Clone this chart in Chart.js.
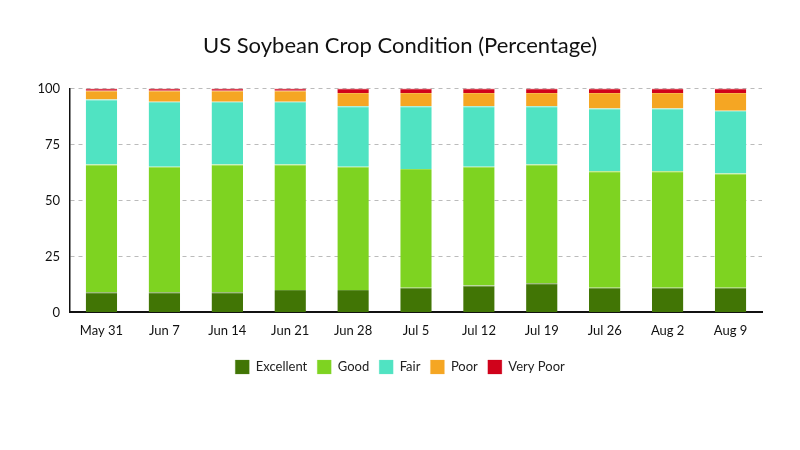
<!DOCTYPE html>
<html>
<head>
<meta charset="utf-8">
<script src="https://cdn.jsdelivr.net/npm/chart.js@4"></script>
<style>
html,body{margin:0;padding:0;background:#fff;}
#wrap{width:800px;height:450px;}
</style>
</head>
<body>
<div id="wrap"><canvas id="c" width="800" height="450"></canvas></div>
<script>
const categories = ["May 31","Jun 7","Jun 14","Jun 21","Jun 28","Jul 5","Jul 12","Jul 19","Jul 26","Aug 2","Aug 9"];
const excellent = [9, 9, 9, 10, 10, 11, 12, 13, 11, 11, 11];
const good      = [57, 56, 57, 56, 55, 53, 53, 53, 52, 52, 51];
const fair      = [29, 29, 28, 28, 27, 28, 27, 26, 28, 28, 28];
const poor      = [4, 5, 5, 5, 6, 6, 6, 6, 7, 7, 8];
const veryPoor  = [1, 1, 1, 1, 2, 2, 2, 2, 2, 2, 2];
const yTicks = [0, 25, 50, 75, 100];

const F = "Lato, 'Noto Sans', sans-serif";
Chart.defaults.font.family = F;
Chart.defaults.color = "#111";

function ds(label, data, color, border) {
  return {label, data, backgroundColor: color, borderColor: border, borderWidth: {top:1, left:0, right:0, bottom:0}, borderSkipped: false,
          barPercentage: 0.5, categoryPercentage: 1.0};
}

new Chart(document.getElementById("c"), {
  type: "bar",
  data: {
    labels: categories,
    datasets: [
      ds("Excellent", excellent, "#417505", "#5e8f2a"),
      ds("Good", good, "#7ed321", "#9ae04a"),
      ds("Fair", fair, "#50e3c2", "#70e8cc"),
      ds("Poor", poor, "#f5a623", "#f7b84a"),
      ds("Very Poor", veryPoor, "#d0021b", "#d0021b")
    ]
  },
  options: {
    responsive: false,
    animation: false,
    layout: {padding: {left: 38, right: 38, top: 12, bottom: 66}},
    plugins: {
      title: {display: true, text: "US Soybean Crop Condition (Percentage)", color: "#111",
              font: {size: 22, weight: "normal", family: F}, padding: {top: 21, bottom: 29}},
      legend: {position: "bottom", labels: {boxWidth: 14, boxHeight: 14, color: "#222",
               font: {size: 13, family: F}, padding: 10}},
      tooltip: {enabled: false}
    },
    scales: {
      x: {stacked: true,
          grid: {display: false, drawTicks: false},
          border: {display: true, color: "#111", width: 2},
          ticks: {color: "#111", font: {size: 13}, padding: 11}},
      y: {stacked: true, min: 0, max: 100,
          afterBuildTicks: axis => { axis.ticks = yTicks.map(v => ({value: v})); },
          afterFit: axis => { axis.width = 32; },
          grid: {color: "#bbbbbb", drawTicks: false, lineWidth: 1},
          border: {display: true, color: "#111", width: 1.5, dash: [4,4]},
          ticks: {color: "#111", font: {size: 13}, padding: 10}}
    }
  }
});
</script>
</body>
</html>
